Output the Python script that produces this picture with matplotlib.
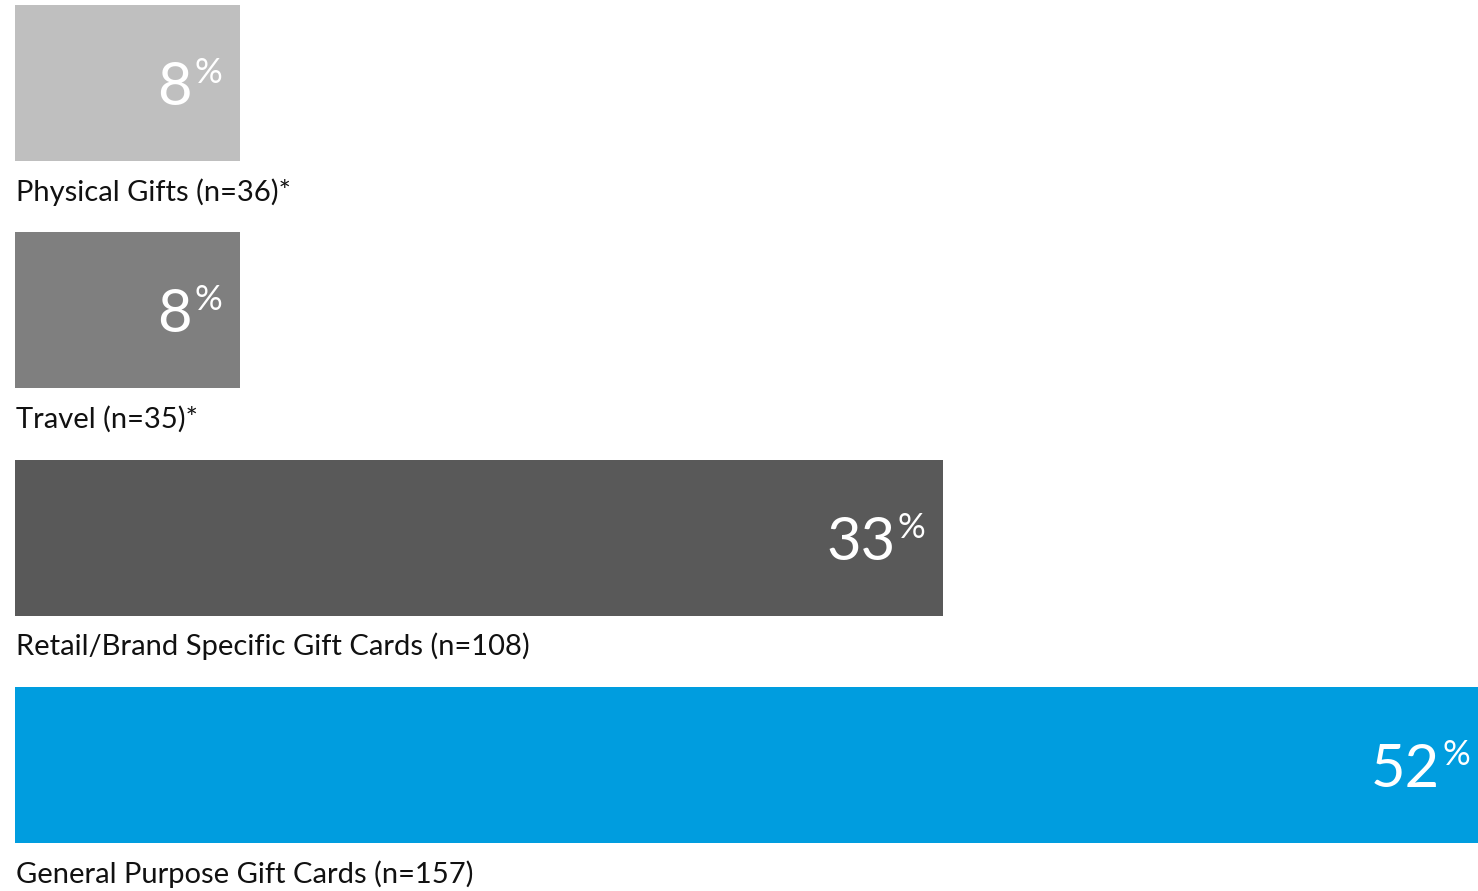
import matplotlib.pyplot as plt

# gift type share of respondents
categories = ['Physical Gifts (n=36)*', 'Travel (n=35)*',
              'Retail/Brand Specific Gift Cards (n=108)',
              'General Purpose Gift Cards (n=157)']
values = [8, 8, 33, 52]
colors = ['#BFBFBF', '#7F7F7F', '#595959', '#009DDF']

plt.rcParams['font.family'] = ['Lato', 'DejaVu Sans']

fig = plt.figure(figsize=(14.78, 8.91), dpi=100)
ax = fig.add_axes([0, 0, 1, 1])

pos = list(range(len(values)))
bar_h = 0.686
ax.barh(pos, values, height=bar_h, color=colors, left=0)

px = 72 / 100  # pixels -> points
for i, (v, lab) in enumerate(zip(values, categories)):
    # the widest bar runs to the edge, so its label sits a bit tighter
    end = -8 if v == max(values) else -18
    # value in big digits with a small raised percent sign
    ax.annotate(str(v), xy=(v, i), xytext=((end - 30) * px, -5 * px),
                textcoords='offset points', ha='right', va='center',
                fontsize=43, color='white')
    ax.annotate('%', xy=(v, i), xytext=(end * px, 10 * px),
                textcoords='offset points', ha='right', va='center',
                fontsize=25, color='white')
    # category label under the bar
    ax.text(0.05, i + 0.48, lab, ha='left', va='center',
            fontsize=21, color='#111111')

ax.set_xlim(-0.53, 52.0)
ax.set_ylim(3.555, -0.365)
ax.axis('off')

fig.savefig('out.png', dpi=100)
